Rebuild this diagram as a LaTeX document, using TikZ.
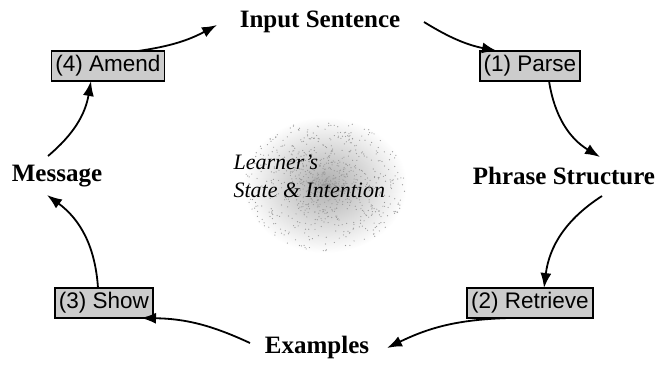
\documentclass[tikz,border=0pt]{standalone}
\usepackage{fontspec}
\setmainfont{Liberation Serif}
\newfontfamily\boxfont{Liberation Sans}
\usetikzlibrary{arrows.meta,calc}
\begin{document}
\begin{tikzpicture}[x=1pt,y=-1pt,
  lbl/.style={font=\fontsize{25}{28}\selectfont\bfseries, inner sep=1pt},
  stagebox/.style={draw, line width=1.8pt, fill=gray!40, font=\boxfont\fontsize{22.5}{24}\selectfont, minimum height=30pt, inner xsep=4pt, inner ysep=1pt},
  flow/.style={line width=1.8pt, -{Latex[length=15pt,width=11pt]}}]
\useasboundingbox (0,0) rectangle (655,365);
\shade[inner color=gray!65, outer color=white] (325,185) ellipse (82 and 68);
\pgfmathsetseed{42}
\foreach \i in {1,...,900} {
  \pgfmathsetmacro{\ang}{360*rnd}
  \pgfmathsetmacro{\rad}{rnd}
  \fill[gray!80] ({325+80*\rad*cos(\ang)},{185+66*\rad*sin(\ang)}) circle (0.6);
}
\node[font=\fontsize{22}{28}\selectfont\itshape, align=left, anchor=west] (st) at (230,176) {Learner's\\State \& Intention};
\node[lbl] (in) at (320,22) {Input Sentence};
\node[lbl] (ph) at (564,176) {Phrase Structure};
\node[lbl] (ex) at (317,347) {Examples};
\node[lbl] (ms) at (57,176) {Message};
\node[stagebox] (p1) at (530,66) {(1) Parse};
\node[stagebox] (p2) at (530,303) {(2) Retrieve};
\node[stagebox] (p3) at (104,303) {(3) Show};
\node[stagebox] (p4) at (108,66) {(4) Amend};
\draw[flow] ($(p4)+(30,-15)$) to[bend right=10] ($(in)+(-103,3)$);
\draw[flow] ($(in)+(104,0)$) to[bend right=10] ($(p1)+(-33,-15)$);
\draw[flow] ($(p1)+(19,15)$) to[bend right=25] ($(ph)+(36,-19)$);
\draw[flow] ($(ph)+(38,20)$) to[bend right=25] ($(p2)+(14,-15)$);
\draw[flow] ($(p2)+(-22,15)$) to[bend right=12] ($(ex)+(70,1)$);
\draw[flow] ($(ex)+(-67,-4)$) to[bend right=12] ($(p3)+(37,15)$);
\draw[flow] ($(p3)+(-6,-15)$) to[bend right=25] ($(ms)+(-10,19)$);
\draw[flow] ($(ms)+(-9,-20)$) to[bend right=20] ($(p4)+(-17,15)$);
\end{tikzpicture}
\end{document}
